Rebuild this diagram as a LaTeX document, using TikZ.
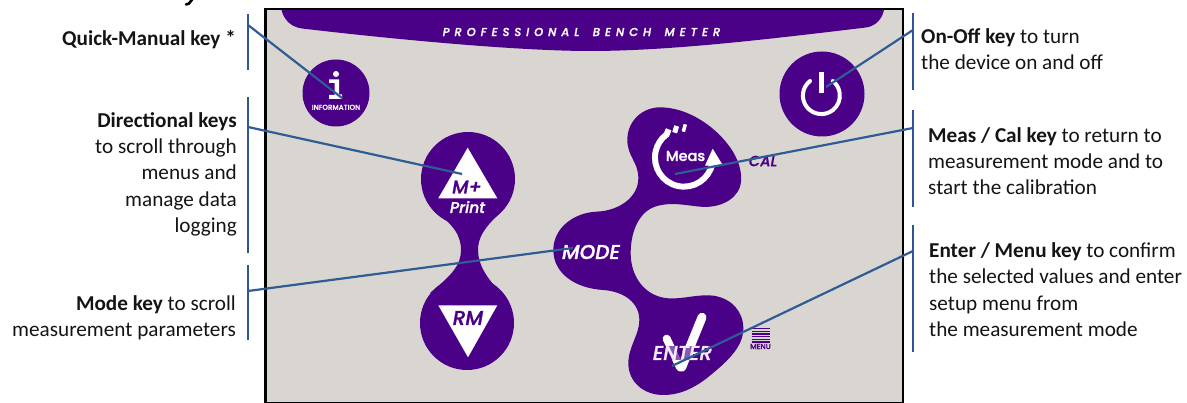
\documentclass[tikz,border=0pt]{standalone}
\usepackage{fontspec}
\setmainfont{Carlito}
\newfontfamily\pop{Poppins Medium}[ItalicFont={Poppins Medium Italic},BoldFont={Poppins Medium},BoldFeatures={FakeBold=1.2},BoldItalicFont={Poppins Medium Italic},BoldItalicFeatures={FakeBold=1.2}]
\newfontfamily\popspaced{Poppins Medium}[ItalicFont={Poppins Medium Italic},BoldItalicFont={Poppins Medium Italic},BoldItalicFeatures={FakeBold=1.2,LetterSpace=43},LetterSpace=43]
\definecolor{plum}{HTML}{4B0088}
\definecolor{panel}{HTML}{D9D6D2}
\definecolor{leader}{HTML}{2F5C94}
\definecolor{bracket}{HTML}{2F5597}
\tikzset{
  callout/.style={inner sep=0pt,font=\fontsize{21.2}{26.4}\selectfont,text=black!92},
  calloutR/.style={callout,align=right,anchor=north east},
  calloutL/.style={callout,align=left,anchor=north west},
  brk/.style={draw=bracket,line width=2pt},
  lead/.style={draw=leader,line width=2.2pt},
  keyshape/.style={fill=plum},
  whitekey/.style={inner sep=0pt,text=white},
  plumkey/.style={inner sep=0pt,text=plum},
}
\begin{document}
\begin{tikzpicture}[x=1pt,y=-1pt]
\useasboundingbox (0,0) rectangle (1187,403);
% descender fragment above the picture
\draw[line width=2.6pt,line cap=round] (192.5,-1) -- (189,3.5) -- (186,4.5);
% panel
\draw[fill=panel,draw=black,line width=2.4pt] (265.5,9) rectangle (903,403.6);
% top band
\fill[keyshape] (281.5,10) .. controls (284,20) and (291,27) .. (302,28.5)
  .. controls (400,40) and (520,51) .. (590,51)
  .. controls (670,51) and (770,39) .. (866,27.5)
  .. controls (876,26) and (882,19) .. (884,10) -- cycle;
\node[whitekey,font=\popspaced\fontsize{11.5}{12}\selectfont\itshape\bfseries] (band) at (581.5,32) {PROFESSIONAL\hspace{5pt} BENCH\hspace{5pt} METER};
% information key
\node[circle,fill=plum,minimum size=67pt,inner sep=0pt] (info) at (336,93) {};
\fill[white] (336,74) circle (3pt);
\fill[white] (329,79.5) -- (339,79.5) -- (339,94.5) -- (342,94.5) -- (342,99) -- (329,99) -- (329,95) -- (334.5,95) -- (334.5,83) -- (329,83) -- cycle;
\node[whitekey,font=\pop\fontsize{7.1}{7}\selectfont\bfseries] (infotxt) at (336,107.3) {INFORMATION};
% on-off key
\node[circle,fill=plum,minimum size=85pt,inner sep=0pt] (power) at (822,94) {};
\draw[white,line width=4pt,line cap=round] (810,81) arc[start angle=232,end angle=-52,radius=18.5];
\draw[white,line width=5pt] (821,72) -- (821,93);
% directional keys
\node[circle,fill=plum,minimum size=94pt,inner sep=0pt] (up) at (468,179) {};
\node[circle,fill=plum,minimum size=94pt,inner sep=0pt] (down) at (467,323) {};
\fill[keyshape] (433,210) .. controls (455,225) and (461,237) .. (461,250)
  .. controls (461,265) and (452,275) .. (430,293) -- (500,292)
  .. controls (487,278) and (478,265) .. (478,250)
  .. controls (478,238) and (484,228) .. (499,214) -- cycle;
\fill[white] (467.7,147.7) -- (497.3,198.3) -- (438.3,198.3) -- cycle;
\fill[white] (438.3,305.3) -- (497.3,305.3) -- (468,357.3) -- cycle;
\node[plumkey,font=\pop\fontsize{18.5}{18}\selectfont\itshape\bfseries] (mplus) at (467,187) {M+};
\node[whitekey,font=\pop\fontsize{15.5}{15}\selectfont\itshape\bfseries] (print) at (467.5,207) {Print};
\node[plumkey,font=\pop\fontsize{20}{20}\selectfont\itshape\bfseries] (rm) at (468,318) {RM};
% meas / mode / enter keys
\begin{scope}[shift={(540,90)},scale=1/3]
\fill[keyshape] (262,150) .. controls (262,90) and (310,52) .. (360,52)
  .. controls (440,52) and (520,105) .. (565,165)
  .. controls (600,210) and (610,260) .. (600,290)
  .. controls (585,335) and (530,355) .. (480,350)
  .. controls (430,345) and (390,335) .. (345,350)
  .. controls (300,365) and (272,420) .. (272,490)
  .. controls (272,560) and (315,620) .. (385,625)
  .. controls (430,628) and (470,612) .. (520,617)
  .. controls (575,625) and (610,665) .. (610,715)
  .. controls (610,775) and (555,820) .. (500,865)
  .. controls (460,895) and (420,915) .. (370,915)
  .. controls (310,915) and (265,875) .. (265,820)
  .. controls (265,770) and (298,735) .. (298,690)
  .. controls (298,640) and (255,605) .. (190,600)
  .. controls (105,595) and (40,550) .. (40,480)
  .. controls (40,415) and (100,368) .. (170,365)
  .. controls (240,362) and (295,320) .. (295,265)
  .. controls (295,215) and (262,200) .. (262,150) -- cycle;
% meas ring
\draw[white,line width=6pt] (517,221) arc[start angle=12,end angle=232,radius=87];
\fill[white] (518,176) -- (548,225) -- (495,227) -- cycle;
\draw[white,line width=6pt] (378,138) -- (386,118);
\draw[white,line width=5pt] (404,128) -- (410,108);
\draw[white,line width=3.5pt] (430,125) -- (436,103);
% check
\draw[white,line width=9pt,line cap=round] (486,682) -- (425,832);
\draw[white,line width=8pt,line cap=round] (380,746) -- (420,832);
% menu icon
\foreach \yy in {716,724,732,740,748,756}{\draw[plum,line width=1.3pt] (635,\yy) -- (690,\yy);}
\end{scope}
\node[whitekey,font=\pop\fontsize{14.5}{15}\selectfont\bfseries] (meas) at (685.5,156) {Meas};
\node[plumkey,font=\pop\fontsize{14.8}{15}\selectfont\itshape\bfseries] (cal) at (763,161) {CAL};
\node[whitekey,font=\pop\fontsize{20}{20}\selectfont\itshape\bfseries] (mode) at (591,252) {MODE};
\node[whitekey,font=\pop\fontsize{20}{20}\selectfont\itshape\bfseries,text=white!92!plum,fill=plum,fill opacity=0.65,text opacity=1] (enter) at (682.5,353) {ENTER};
\node[plumkey,font=\pop\fontsize{7.3}{8}\selectfont\bfseries] (menu) at (760.5,346.5) {MENU};
% callout texts
\node[calloutR] (qmk) at (236,30.5) {\textbf{Quick-Manual key *}};
\node[calloutR] (dir) at (237,112) {\textbf{Directional keys}\\to scroll through\\menus and\\manage data\\logging};
\node[calloutR] (modek) at (236,295.5) {\textbf{Mode key} to scroll\\measurement parameters};
\node[calloutL] (onoff) at (921,28) {\textbf{On-Off key} to turn\\the device on and off};
\node[calloutL] (meask) at (928,127) {\textbf{Meas / Cal key} to return to\\measurement mode and to\\start the calibration};
\node[calloutL] (enterk) at (929,242.5) {\textbf{Enter / Menu key} to confirm\\the selected values and enter\\setup menu from\\the measurement mode};
% brackets
\coordinate (b1a) at (248,14); \coordinate (b1b) at (248,70);
\coordinate (b2a) at (248,97); \coordinate (b2b) at (248,253);
\coordinate (b3a) at (248,265); \coordinate (b3b) at (248,340);
\coordinate (b4a) at (913,13); \coordinate (b4b) at (913,90);
\coordinate (b5a) at (913,110); \coordinate (b5b) at (913,207);
\coordinate (b6a) at (913,225); \coordinate (b6b) at (913,352);
\foreach \a/\b in {b1a/b1b,b2a/b2b,b3a/b3b,b4a/b4b,b5a/b5b,b6a/b6b}{\draw[brk] (\a) -- (\b);}
% leaders
\coordinate (l1s) at (248,25); \coordinate (l1e) at (342,98);
\coordinate (l2s) at (248,127); \coordinate (l2e) at (462,174);
\coordinate (l3s) at (248,291); \coordinate (l3e) at (573,248);
\coordinate (l4s) at (913,30); \coordinate (l4e) at (826,87);
\coordinate (l5s) at (913,128); \coordinate (l5e) at (675,174);
\coordinate (l6s) at (913,251); \coordinate (l6e) at (672,366);
\foreach \a/\b in {l1s/l1e,l2s/l2e,l3s/l3e,l4s/l4e,l5s/l5e,l6s/l6e}{\draw[lead] (\a) -- (\b);}
\end{tikzpicture}
\end{document}
